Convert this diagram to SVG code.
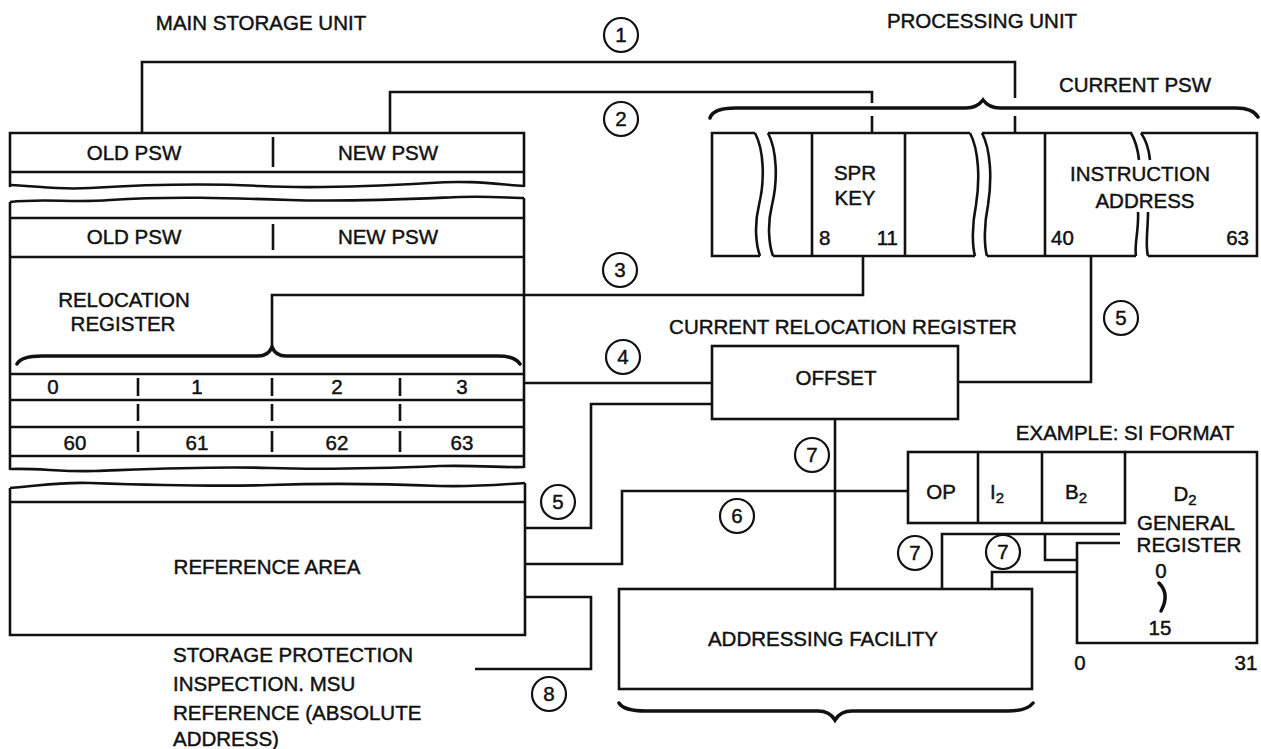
<svg xmlns="http://www.w3.org/2000/svg" width="1261" height="749" viewBox="0 0 1261 749">
<style>
.ln{fill:none;stroke:#111;stroke-width:2.6;stroke-linejoin:miter;stroke-linecap:butt}
.br{fill:none;stroke:#111;stroke-width:3.5;stroke-linecap:round}
.t{font-family:"Liberation Sans",Arial,sans-serif;font-size:20.5px;fill:#111;stroke:#111;stroke-width:0.45}
.c{text-anchor:middle}
.bd circle{fill:#fff;stroke:#111;stroke-width:2.2}
.bd text{font-family:"Liberation Sans",Arial,sans-serif;font-size:20.5px;fill:#111;stroke:#111;stroke-width:0.45;text-anchor:middle}
</style>
<rect width="1261" height="749" fill="#fff"/>

<g id="titles">
<text class="t c" x="261" y="30">MAIN STORAGE UNIT</text>
<text class="t c" x="982" y="28">PROCESSING UNIT</text>
</g>

<g id="connectors">
<path class="ln" d="M142,133 V62 H1015 V98"/>
<path class="ln" d="M1015,116 V133"/>
<path class="ln" d="M390,133 V92 H872 V103"/>
<path class="ln" d="M872,116 V133"/>
<path class="ln" d="M272,347 V295 H863 V256"/>
<path class="ln" d="M525,383 H712"/>
<path class="ln" d="M1091,256 V382 H958"/>
<path class="ln" d="M712,404 H591 V528 H525"/>
<path class="ln" d="M525,564 H622 V491 H908"/>
<path class="ln" d="M835,419 V589"/>
<path class="ln" d="M1120,534 H942 V589"/>
<path class="ln" d="M1077,572 H992 V589"/>
<path class="ln" d="M1045,534 V560 H1077"/>
<path class="ln" d="M525,597 H591 V669 H475"/>
</g>

<g id="badges" class="bd">
<g id="badge-1"><circle cx="621" cy="35" r="17"/><text x="621" y="42">1</text></g>
<g id="badge-2"><circle cx="621" cy="119" r="17"/><text x="621" y="126">2</text></g>
<g id="badge-3"><circle cx="620" cy="270" r="17"/><text x="620" y="277">3</text></g>
<g id="badge-4"><circle cx="623" cy="357" r="17"/><text x="623" y="364">4</text></g>
<g id="badge-5a"><circle cx="1121" cy="318" r="17"/><text x="1121" y="325">5</text></g>
<g id="badge-5b"><circle cx="558" cy="502" r="17"/><text x="558" y="509">5</text></g>
<g id="badge-6"><circle cx="737" cy="516" r="17"/><text x="737" y="523">6</text></g>
<g id="badge-7a"><circle cx="812" cy="455" r="17"/><text x="812" y="462">7</text></g>
<g id="badge-7b"><circle cx="915" cy="553" r="17"/><text x="915" y="560">7</text></g>
<g id="badge-7c"><circle cx="1003" cy="552" r="17"/><text x="1003" y="559">7</text></g>
<g id="badge-8"><circle cx="549" cy="694" r="17"/><text x="549" y="701">8</text></g>
</g>

<g id="msu-psw-1">
<path class="ln" d="M10,187 V133 H524 V187"/>
<path class="ln" d="M10,172 H524"/>
<path class="ln" d="M273,137 V167"/>
<path class="ln" d="M10,185 C40,186 55,190 90,188 C140,185 200,183 260,186 C320,189 380,186 430,183 C470,180 495,184 524,186"/>
<text class="t c" x="134" y="160">OLD PSW</text>
<text class="t c" x="388" y="160">NEW PSW</text>
</g>

<g id="msu-psw-2-relocation">
<path class="ln" d="M10,202 C45,198 70,203 110,200 C170,196 230,198 290,200 C350,202 410,199 460,197 C490,196 510,198 524,198"/>
<path class="ln" d="M10,202 V470"/>
<path class="ln" d="M524,198 V468"/>
<path class="ln" d="M10,218 H524"/>
<path class="ln" d="M10,257 H524"/>
<path class="ln" d="M273,224 V250"/>
<text class="t c" x="134" y="244">OLD PSW</text>
<text class="t c" x="388" y="244">NEW PSW</text>
<text class="t c" x="124" y="307">RELOCATION</text>
<text class="t c" x="123" y="331">REGISTER</text>
<path class="br" d="M17,364 C20,358 28,356 42,356 L258,356 C266,356 270,352 272,347 C274,352 278,356 286,356 L498,356 C510,356 517,359 520,364"/>
<path class="ln" d="M10,374 H524 M10,400 H524 M10,427 H524 M10,456 H524"/>
<path class="ln" d="M138,378 V396 M272,378 V396 M400,378 V396 M138,404 V421 M272,404 V421 M400,404 V421 M138,431 V452 M272,431 V452 M400,431 V452"/>
<text class="t c" x="53" y="394">0</text>
<text class="t c" x="197" y="394">1</text>
<text class="t c" x="337" y="394">2</text>
<text class="t c" x="462" y="394">3</text>
<text class="t c" x="75" y="450">60</text>
<text class="t c" x="197" y="450">61</text>
<text class="t c" x="337" y="450">62</text>
<text class="t c" x="462" y="450">63</text>
<path class="ln" d="M10,469 C40,468 60,472 95,471 C150,469 210,466 270,468 C330,470 390,468 440,466 C480,465 505,468 524,467"/>
</g>

<g id="msu-reference-area">
<path class="ln" d="M10,488 C40,486 55,482 90,483 C150,485 210,487 270,485 C330,483 390,484 440,486 C480,487 505,484 525,483"/>
<path class="ln" d="M10,488 V635 H525 V483"/>
<path class="ln" d="M10,502 H525"/>
<text class="t c" x="267" y="574">REFERENCE AREA</text>
</g>

<g id="note-storage-protection">
<text class="t" x="173" y="662">STORAGE PROTECTION</text>
<text class="t" x="173" y="691">INSPECTION. MSU</text>
<text class="t" x="173" y="720">REFERENCE (ABSOLUTE</text>
<text class="t" x="173" y="746">ADDRESS)</text>
</g>

<g id="current-psw">
<text class="t c" x="1135" y="92">CURRENT PSW</text>
<path class="br" d="M710,118 C712,111 720,108 736,108 L966,108 C975,108 980,104 983,100 C986,104 991,108 1000,108 L1236,108 C1248,108 1255,112 1258,117"/>
<path class="ln" d="M755,133 H712 V256 H760"/>
<path class="ln" d="M755,133 C764,150 765,180 759,205 C754,225 756,245 760,256"/>
<path class="ln" d="M768,133 C777,150 778,180 772,205 C767,225 769,245 773,256"/>
<path class="ln" d="M768,133 H970 M773,256 H975"/>
<path class="ln" d="M970,133 C979,150 980,180 976,205 C972,225 972,245 975,256"/>
<path class="ln" d="M982,133 C991,150 992,180 988,205 C984,225 984,245 987,256"/>
<path class="ln" d="M812,133 V256 M905,133 V256 M1045,133 V256"/>
<path class="ln" d="M982,133 H1131 C1135,140 1138,150 1139,160"/>
<path class="ln" d="M1141,133 H1257 V256 H1148"/>
<path class="ln" d="M1141,133 C1146,140 1149,150 1150,160"/>
<path class="ln" d="M987,256 H1136"/>
<path class="ln" d="M1138,212 C1139,230 1134,245 1136,256"/>
<path class="ln" d="M1148,212 C1148,230 1145,245 1148,256"/>
<text class="t c" x="855" y="180">SPR</text>
<text class="t c" x="855" y="205">KEY</text>
<text class="t" x="819" y="245">8</text>
<text class="t" x="898" y="245" text-anchor="end">11</text>
<text class="t" x="1051" y="245">40</text>
<text class="t" x="1249" y="245" text-anchor="end">63</text>
<text class="t c" x="1140" y="181">INSTRUCTION</text>
<text class="t c" x="1145" y="208">ADDRESS</text>
</g>

<g id="current-relocation-register">
<text class="t c" x="843" y="334">CURRENT RELOCATION REGISTER</text>
<rect class="ln" x="712" y="346" width="246" height="73"/>
<text class="t c" x="836" y="385">OFFSET</text>
</g>

<g id="addressing-facility">
<rect class="ln" x="619" y="589" width="413" height="100"/>
<text class="t c" x="823" y="646">ADDRESSING FACILITY</text>
<path class="br" d="M619,703 C622,708 630,711 646,711 L818,711 C827,711 832,715 835,720 C838,715 843,711 852,711 L1008,711 C1024,711 1030,707 1033,703"/>
</g>

<g id="si-format">
<text class="t c" x="1125" y="440">EXAMPLE: SI FORMAT</text>
<rect class="ln" x="908" y="452" width="217" height="71"/>
<path class="ln" d="M978,452 V523 M1042,452 V523"/>
<path class="ln" d="M1125,452 H1257 V643 H1077 V543 H1120"/>
<text class="t c" x="941" y="499">OP</text>
<text class="t c" x="997" y="499">I<tspan font-size="15" dy="4">2</tspan></text>
<text class="t c" x="1076" y="499">B<tspan font-size="15" dy="4">2</tspan></text>
<text class="t c" x="1185" y="501">D<tspan font-size="15" dy="4">2</tspan></text>
</g>

<g id="general-register">
<text class="t c" x="1186" y="530">GENERAL</text>
<text class="t c" x="1189" y="552">REGISTER</text>
<text class="t c" x="1161" y="578">0</text>
<path d="M1159,583 C1166,590 1167,600 1161,611" fill="none" stroke="#111" stroke-width="3.5" stroke-linecap="round"/>
<text class="t c" x="1160" y="635">15</text>
<text class="t c" x="1080" y="670">0</text>
<text class="t c" x="1246" y="670">31</text>
</g>
</svg>
